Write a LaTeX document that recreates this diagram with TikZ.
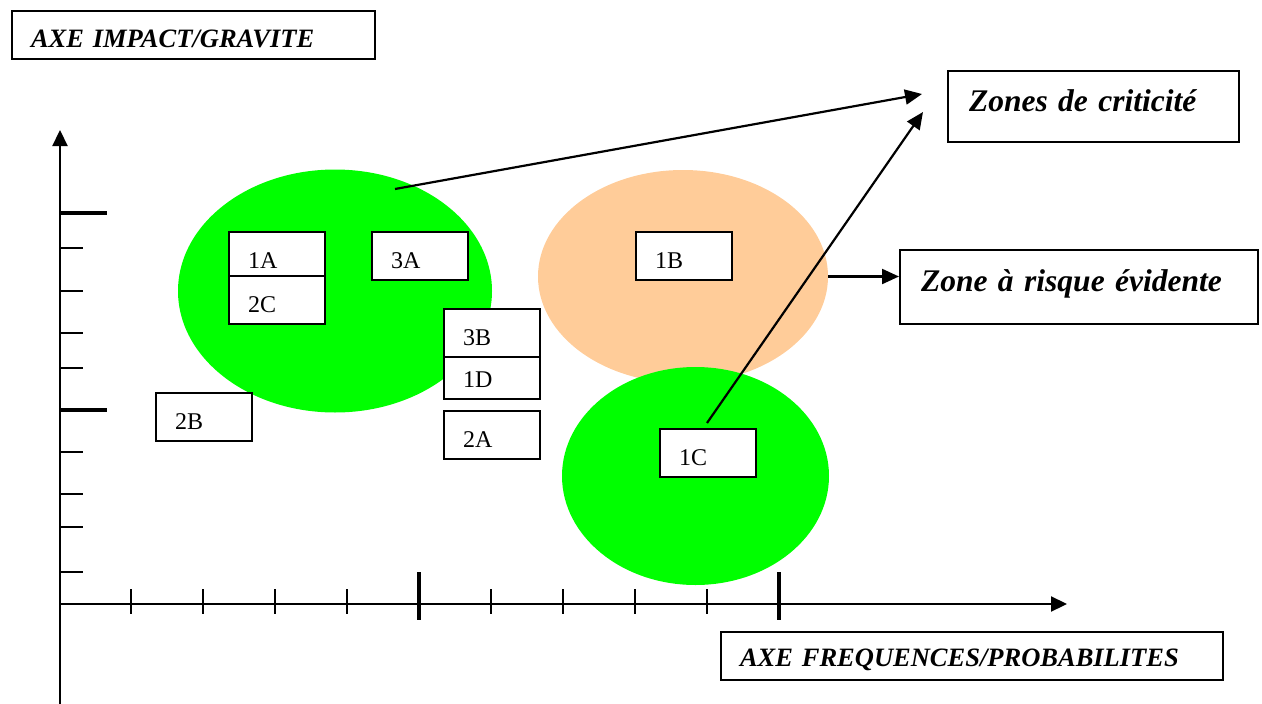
\documentclass[tikz,border=0pt]{standalone}
\usepackage{fontspec}
\setmainfont{Liberation Serif}
\usetikzlibrary{arrows.meta,shapes.geometric,calc}
\definecolor{zgreen}{RGB}{0,255,0}
\definecolor{zorange}{RGB}{255,204,153}
\begin{document}
\begin{tikzpicture}[x=1pt,y=-1pt,
  riskbox/.style={draw, fill=white, line width=2pt, anchor=north west,
    minimum width=96pt, minimum height=48pt, inner xsep=19pt, inner ysep=0pt,
    text width=58pt, align=left, text height=24pt, text depth=0pt,
    font=\fontsize{24}{24}\selectfont},
  labelbox/.style={draw, line width=2pt, anchor=north west, inner ysep=0pt,
    text depth=0pt, align=left},
  zone/.style={ellipse, inner sep=0pt, draw=none},
  arr/.style={line width=2.2pt, -{Triangle[length=17pt,width=15pt]}},
  axisline/.style={line width=2.2pt, -{Triangle[length=16pt,width=15pt]}},
  thintick/.style={line width=2pt},
  thicktick/.style={line width=4.5pt},
]
\useasboundingbox (0,0) rectangle (1262,704);

% zones
\node[zone, fill=zorange, minimum width=290pt, minimum height=213pt] (orange) at (683,276.5) {};
\node[zone, fill=zgreen, minimum width=267pt, minimum height=218pt] (green2) at (695.5,476) {};
\node[zone, fill=zgreen, minimum width=314pt, minimum height=243pt] (green1) at (335,291) {};

% axes
\coordinate (O) at (60,604);
\coordinate (ybot) at (60,704);
\coordinate (ytop) at (60,130);
\coordinate (xend) at (1067,604);
\draw[line width=2.2pt] (ybot) -- (O);
\draw[axisline] (O) -- (ytop);
\draw[axisline] (O) -- (xend);

\foreach \yy in {248,291,333,368,452,494,527,572}
  \draw[thintick] (60,\yy) -- (83,\yy);
\foreach \yy in {213,410}
  \draw[thicktick] (60,\yy) -- (107,\yy);
\foreach \xx in {131,203,275,347,491,563,635,707}
  \draw[thintick] (\xx,589) -- (\xx,614);
\foreach \xx in {419,779}
  \draw[thicktick] (\xx,572) -- (\xx,620);

% risk boxes
\node[riskbox] (r1A) at (228,231) {1A};
\node[riskbox] (r2C) at (228,275) {2C};
\node[riskbox] (r3A) at (371,231) {3A};
\node[riskbox] (r1D) at (443,350) {1D};
\node[riskbox] (r3B) at (443,308) {3B};
\node[riskbox] (r2A) at (443,410) {2A};
\node[riskbox] (r2B) at (155,392) {2B};
\node[riskbox] (r1B) at (635,231) {1B};
\node[riskbox] (r1C) at (659,428) {1C};

% label boxes
\node[labelbox, minimum width=363pt, minimum height=48pt, inner xsep=19pt,
  text width=325pt, text height=25.4pt,
  font=\bfseries\itshape\fontsize{26.5}{26.5}\selectfont] (axey) at (11,10) {AXE IMPACT/GRAVITE};
\node[labelbox, minimum width=291pt, minimum height=71pt, inner xsep=21pt,
  text width=249pt, text height=10.4pt,
  font=\bfseries\itshape\fontsize{31.5}{31.5}\selectfont] (crit) at (947,70) {Zones de criticité};
\node[labelbox, minimum width=358pt, minimum height=74pt, inner xsep=21pt,
  text width=316pt, text height=8pt,
  font=\bfseries\itshape\fontsize{31.5}{31.5}\selectfont] (risk) at (899,249) {Zone à risque évidente};
\node[labelbox, minimum width=502pt, minimum height=48pt, inner xsep=19pt,
  text width=464pt, text height=20.2pt,
  font=\bfseries\itshape\fontsize{26.5}{26.5}\selectfont] (axex) at (720,631) {AXE FREQUENCES/PROBABILITES};

% connectors
\coordinate (s1) at (395,189);
\coordinate (t1) at (922,94);
\coordinate (s2) at (707,423);
\coordinate (t2) at (923,112);
\draw[arr] (s1) -- (t1);
\draw[arr] (s2) -- (t2);
\draw[arr] (orange.east) -- (orange.east -| risk.west);
\end{tikzpicture}
\end{document}
